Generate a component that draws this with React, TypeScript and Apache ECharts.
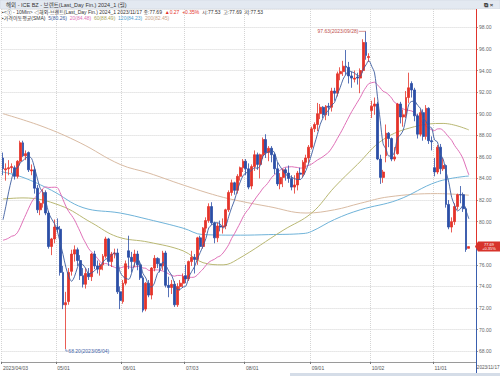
import React, { useEffect, useRef } from "react";
import * as echarts from "echarts";

// trading days per month (2023)
const aprDays = [3, 4, 5, 6, 10, 11, 12, 13, 14, 17, 18, 19, 20, 21, 24, 25, 26, 27, 28];
const mayDays = [1, 2, 3, 4, 5, 8, 9, 10, 11, 12, 15, 16, 17, 18, 19, 22, 23, 24, 25, 26, 29, 30, 31];
const junDays = [1, 2, 5, 6, 7, 8, 9, 12, 13, 14, 15, 16, 19, 20, 21, 22, 23, 26, 27, 28, 29, 30];
const julDays = [3, 4, 5, 6, 7, 10, 11, 12, 13, 14, 17, 18, 19, 20, 21, 24, 25, 26, 27, 28, 31];
const augDays = [1, 2, 3, 4, 7, 8, 9, 10, 11, 14, 15, 16, 17, 18, 21, 22, 23, 24, 25, 28, 29, 30, 31];
const sepDays = [1, 4, 5, 6, 7, 8, 11, 12, 13, 14, 15, 18, 19, 20, 21, 22, 25, 26, 27, 28, 29];
const octDays = [2, 3, 4, 5, 6, 9, 10, 11, 12, 13, 16, 17, 18, 19, 20, 23, 24, 25, 26, 27, 30, 31];
const novDays = [1, 2, 3, 6, 7, 8, 9, 10, 13, 14, 15, 16, 17];

// closes before the first bar (for the 5/20 averages)
const prevCloses = [83.29, 82.66, 81.59, 82.78, 80.77, 77.45, 73.69, 74.7, 72.97, 73.79, 75.32, 76.69, 75.91, 74.99, 78.12, 78.65, 78.28, 79.27, 79.77];

// [open, high, low, close]
const bars = [
  [85.9, 86.4, 84.3, 84.9], [84.8, 85.4, 83.8, 84.9], [84.9, 85.7, 84.3, 85.0], [85.0, 85.4, 84.5, 85.1],
  [85.0, 85.2, 83.9, 84.2], [84.2, 85.7, 84.0, 85.6], [85.6, 87.5, 85.2, 87.3], [87.3, 87.5, 86.0, 86.1],
  [86.1, 86.6, 85.7, 86.3], [86.4, 86.5, 84.6, 84.8], [84.7, 85.3, 84.3, 84.8], [84.8, 85.1, 82.6, 83.1],
  [83.1, 83.4, 80.8, 81.1], [81.1, 81.9, 80.6, 81.7], [81.7, 83.0, 81.3, 82.7], [82.7, 82.9, 80.6, 80.8],
  [80.8, 81.0, 77.5, 77.7], [77.7, 78.5, 76.9, 78.4], [78.4, 80.2, 78.0, 79.5],
  // May
  [79.5, 80.3, 79.0, 79.3], [79.3, 79.6, 75.0, 75.3], [75.3, 75.9, 71.9, 72.3], [72.3, 73.5, 68.2, 72.5],
  [72.6, 75.7, 72.3, 75.3], [75.4, 77.4, 75.0, 77.0], [77.0, 77.8, 76.3, 77.4], [77.4, 77.6, 75.9, 76.4],
  [76.4, 76.9, 74.6, 75.0], [75.0, 75.7, 73.9, 74.2], [74.2, 75.7, 73.8, 75.2], [75.2, 75.7, 74.6, 74.9],
  [74.9, 77.1, 74.5, 77.0], [77.0, 77.3, 75.6, 75.9], [75.9, 76.4, 75.2, 75.6], [75.6, 76.2, 75.0, 76.0],
  [76.0, 77.0, 75.5, 76.8], [76.8, 78.6, 76.6, 78.4], [78.4, 78.5, 75.9, 76.3], [76.3, 77.2, 75.8, 77.0],
  [77.0, 77.5, 76.6, 77.1], [77.1, 77.5, 73.3, 73.5], [73.5, 74.0, 71.9, 72.7],
  // Jun
  [72.6, 74.6, 72.4, 74.3], [74.3, 76.4, 74.1, 76.1], [77.3, 78.7, 75.6, 76.7], [76.7, 77.2, 75.3, 76.3],
  [76.3, 77.4, 75.8, 77.0], [77.0, 77.3, 75.5, 76.0], [76.0, 76.4, 74.6, 74.8], [74.8, 75.0, 71.6, 71.8],
  [71.9, 74.4, 71.7, 74.3], [74.3, 74.6, 73.0, 73.2], [73.2, 75.8, 72.8, 75.7], [75.7, 76.9, 75.4, 76.6],
  [76.6, 76.7, 75.7, 76.1], [76.1, 76.6, 75.3, 75.9], [75.9, 77.3, 75.5, 77.1], [77.1, 77.3, 73.9, 74.1],
  [74.1, 74.9, 73.0, 73.9], [73.9, 74.6, 73.3, 74.2], [74.2, 74.5, 72.1, 72.3], [72.3, 74.3, 72.1, 74.0],
  [74.0, 74.6, 73.6, 74.3], [74.3, 75.2, 73.9, 74.9],
  // Jul
  [75.0, 76.0, 74.3, 74.7], [74.7, 76.4, 74.5, 76.3], [76.3, 77.3, 75.9, 76.7], [76.7, 77.0, 75.2, 76.5],
  [76.5, 78.6, 76.0, 78.5], [78.5, 78.7, 77.4, 77.7], [77.7, 79.5, 77.5, 79.4], [79.4, 80.4, 79.0, 80.1],
  [80.1, 81.7, 79.9, 81.4], [81.4, 81.8, 79.7, 79.9], [79.9, 80.0, 78.0, 78.5], [78.5, 79.9, 78.1, 79.6],
  [79.6, 80.1, 79.1, 79.5], [79.5, 80.3, 78.9, 79.6], [79.6, 81.2, 79.3, 81.1], [81.1, 82.9, 80.9, 82.7],
  [82.7, 83.9, 82.4, 83.6], [83.6, 83.7, 82.5, 82.9], [82.9, 84.4, 82.6, 84.2], [84.2, 85.1, 83.8, 85.0],
  [85.0, 85.8, 84.6, 85.6],
  // Aug
  [85.6, 85.8, 84.3, 84.9], [84.9, 85.4, 83.0, 83.2], [83.3, 85.3, 83.0, 85.1], [85.1, 86.6, 84.7, 86.2],
  [86.2, 86.4, 84.8, 85.3], [85.3, 86.3, 84.0, 86.2], [86.2, 87.8, 85.8, 87.6], [87.6, 88.1, 85.9, 86.4],
  [86.4, 87.0, 85.6, 86.8], [86.8, 87.0, 85.5, 86.2], [86.2, 86.4, 84.4, 84.9], [84.9, 85.5, 83.3, 83.5],
  [83.5, 84.5, 83.0, 84.1], [84.1, 84.9, 83.2, 84.8], [84.8, 85.0, 83.8, 84.5], [84.5, 85.2, 83.6, 84.0],
  [84.0, 84.3, 82.9, 83.2], [83.2, 84.3, 82.6, 83.4], [83.4, 84.7, 82.9, 84.5], [84.5, 85.0, 83.9, 84.4],
  [84.4, 85.7, 84.1, 85.5], [85.5, 86.2, 84.9, 85.9], [85.9, 87.1, 85.4, 86.9],
  // Sep
  [86.9, 88.8, 86.7, 88.6], [88.6, 89.2, 88.3, 89.0], [89.0, 91.0, 88.4, 90.0], [90.0, 90.9, 89.5, 90.6],
  [90.6, 90.7, 89.6, 89.9], [89.9, 90.8, 89.4, 90.7], [90.7, 91.0, 89.8, 90.6], [90.6, 92.4, 90.2, 92.1],
  [92.1, 92.4, 91.2, 91.9], [91.9, 93.9, 91.6, 93.7], [93.7, 94.3, 93.1, 93.9], [93.9, 94.9, 93.5, 94.4],
  [94.4, 95.9, 93.6, 94.3], [94.3, 94.8, 92.8, 93.5], [93.5, 93.9, 92.4, 93.3], [93.2, 94.0, 92.9, 93.3],
  [93.4, 93.8, 92.7, 93.3], [93.3, 94.2, 91.9, 94.0], [94.0, 96.9, 93.8, 96.6], [96.6, 97.63, 95.0, 95.4],
  [95.2, 95.6, 94.8, 95.3],
  // Oct
  [90.3, 91.2, 89.6, 90.7], [90.7, 91.5, 89.9, 90.9], [90.9, 91.1, 85.7, 85.8], [85.8, 86.2, 83.5, 84.1],
  [84.1, 84.8, 83.6, 84.6], [86.1, 89.0, 85.5, 88.2], [88.2, 88.3, 86.9, 87.7], [87.7, 87.8, 85.6, 85.8],
  [85.8, 86.9, 85.6, 86.0], [86.3, 91.0, 86.2, 90.9], [90.9, 91.1, 89.1, 89.7], [89.7, 90.4, 88.8, 89.9],
  [89.9, 92.1, 89.6, 91.5], [91.5, 93.8, 91.0, 92.4], [92.8, 93.0, 91.5, 92.2], [92.2, 92.4, 89.3, 89.8],
  [89.8, 90.0, 87.7, 88.1], [88.1, 90.4, 87.9, 90.1], [90.1, 90.4, 87.5, 87.9], [87.9, 90.8, 87.6, 90.5],
  [90.5, 90.6, 87.2, 87.5], [87.5, 87.9, 86.6, 87.4],
  // Nov
  [85.0, 85.9, 84.2, 84.6], [84.6, 87.1, 84.4, 86.9], [86.9, 87.2, 84.4, 84.9], [84.9, 85.9, 84.7, 85.2],
  [85.2, 85.3, 81.3, 81.6], [81.6, 82.0, 79.3, 79.5], [79.5, 80.4, 79.0, 80.0], [80.0, 81.7, 79.7, 81.4],
  [81.4, 82.6, 81.1, 82.5], [82.5, 83.3, 81.7, 82.47], [82.5, 82.7, 80.9, 81.2], [81.2, 81.4, 77.2, 77.42],
  [77.53, 77.69, 77.53, 77.69],
];

// longer moving averages: [bar index, value]
const ma60Pts = [[0, 82.1], [7, 82.2], [20, 81.5], [31, 79.9], [40, 78.6], [51, 78.1], [63, 77.3], [70, 76.2], [77, 76.0], [82, 76.5], [98, 79.2], [108, 80.8], [116, 83.2], [124, 85.3], [133, 87.6], [144, 88.8], [154, 89.1], [163, 88.5]];
const ma120Pts = [[0, 84.6], [7, 84.1], [17, 82.9], [28, 81.3], [41, 80.8], [51, 80.2], [63, 79.4], [70, 78.8], [83, 78.75], [93, 78.8], [105, 78.9], [108, 79.1], [116, 80.2], [125, 81.1], [138, 82.0], [152, 83.7], [163, 84.23]];
const ma200Pts = [[0, 90.0], [14, 88.8], [27, 87.3], [41, 85.3], [51, 84.5], [63, 83.4], [75, 82.4], [83, 81.9], [93, 81.4], [106, 80.8], [116, 81.1], [125, 81.7], [135, 82.3], [152, 82.6], [163, 82.45]];

const yTicksMin = 67;
const yTicksMax = 99.7;

const UP = "#e4332a";
const DOWN = "#2b4ea6";
const C5 = "#3b5b9e";
const C20 = "#e070b8";
const C60 = "#b9b873";
const C120 = "#6fb3d9";
const C200 = "#d9bba3";

export default function App() {
  const ref = useRef<HTMLDivElement>(null);
  useEffect(() => {
    const chart = echarts.init(ref.current!, null, { renderer: "svg" });
    const dates: string[] = [];
    const mm = ["04", "05", "06", "07", "08", "09", "10", "11"];
    [aprDays, mayDays, junDays, julDays, augDays, sepDays, octDays, novDays].forEach((arr, m) => {
      arr.forEach((d) => dates.push("2023/" + mm[m] + "/" + (d < 10 ? "0" + d : "" + d)));
    });
    const cats = [...dates, "", ""];
    const monthStart = new Set<number>();
    dates.forEach((d, i) => {
      if (i === 0 || d.slice(5, 7) !== dates[i - 1].slice(5, 7)) monthStart.add(i);
    });
    const closes = bars.map((b) => b[3]);
    const lastClose = closes[closes.length - 1];
    const all = [...prevCloses, ...closes];
    const ma = (n: number) =>
      closes.map((_, i) => {
        const j = i + prevCloses.length;
        if (j + 1 < n) return "-";
        let s = 0;
        for (let k = j - n + 1; k <= j; k++) s += all[k];
        return +(s / n).toFixed(2);
      });
    const kData = bars.map((b) => [b[0], b[3], b[2], b[1]]);
    const font = "'Liberation Sans', 'Noto Sans CJK KR', sans-serif";

    const option: any = {
      animation: false,
      backgroundColor: "#ffffff",
      grid: { left: 0, right: 24, top: 9, bottom: 14, containLabel: false },
      xAxis: {
        type: "category",
        data: cats,
        boundaryGap: true,
        axisLine: { lineStyle: { color: "#9a9a9a", width: 1 } },
        axisTick: { show: true, length: 2, interval: (i: number) => monthStart.has(i), lineStyle: { color: "#777" } },
        axisLabel: {
          interval: (i: number) => monthStart.has(i),
          formatter: (v: string, i: number) => (i === 0 ? v : v.slice(5)),
          fontSize: 5,
          color: "#555",
          align: "left",
          margin: 3,
          fontFamily: font,
        },
        splitLine: { show: true, interval: (i: number) => monthStart.has(i), lineStyle: { type: "dotted", color: "#d4d4d4" } },
      },
      yAxis: {
        type: "value",
        position: "right",
        min: yTicksMin,
        max: yTicksMax,
        splitNumber: 16,
        axisLine: { show: false },
        axisTick: { show: true, length: 2, lineStyle: { color: "#999" } },
        axisLabel: {
          fontSize: 5,
          color: "#666",
          margin: 3,
          fontFamily: font,
          showMinLabel: false,
          showMaxLabel: false,
          formatter: (v: number) => (Math.abs(v % 2) < 1e-6 && Math.abs(v - lastClose) > 1 ? v.toFixed(2) : ""),
        },
        splitLine: { lineStyle: { type: "dotted", color: "#d4d4d4" } },
      },
      series: [
        { type: "line", data: ma200Pts, smooth: 0.4, symbol: "none", lineStyle: { color: C200, width: 1 }, z: 2 },
        { type: "line", data: ma120Pts, smooth: 0.4, symbol: "none", lineStyle: { color: C120, width: 1 }, z: 2 },
        { type: "line", data: ma60Pts, smooth: 0.4, symbol: "none", lineStyle: { color: C60, width: 1 }, z: 2 },
        { type: "line", data: ma(20), smooth: 0.3, symbol: "none", lineStyle: { color: C20, width: 1 }, z: 3 },
        {
          type: "candlestick",
          data: kData,
          barWidth: 2.4,
          z: 4,
          itemStyle: { color: UP, color0: DOWN, borderColor: UP, borderColor0: DOWN, borderWidth: 0.8 },
        },
        { type: "line", data: ma(5), smooth: 0.3, symbol: "none", lineStyle: { color: C5, width: 0.9 }, z: 5 },
      ],
    };
    chart.setOption(option);

    const last = bars.length - 1;
    const yLast = chart.convertToPixel({ yAxisIndex: 0 }, lastClose) as number;
    const yTop = chart.convertToPixel({ yAxisIndex: 0 }, yTicksMax) as number;
    const yBot = chart.convertToPixel({ yAxisIndex: 0 }, yTicksMin) as number;
    const xAxisRight = (chart.convertToPixel({ xAxisIndex: 0 }, cats.length - 1) as number) + 1.5;
    let hiIdx = 0, loIdx = 0;
    bars.forEach((b, i) => {
      if (b[1] > bars[hiIdx][1]) hiIdx = i;
      if (b[2] < bars[loIdx][2]) loIdx = i;
    });
    const [hx, hy] = chart.convertToPixel({ xAxisIndex: 0, yAxisIndex: 0 }, [hiIdx, bars[hiIdx][1]]) as number[];
    const [lx, ly] = chart.convertToPixel({ xAxisIndex: 0, yAxisIndex: 0 }, [loIdx, bars[loIdx][2]]) as number[];
    const ax = Math.round(xAxisRight) + 0.5;
    const chg = lastClose - closes[last - 1];
    const pct = (chg / closes[last - 1]) * 100;

    chart.setOption({
      graphic: [
        { type: "rect", shape: { x: 0, y: 0, width: 500, height: 8.5 }, style: { fill: "#e3e9f1", stroke: "#c8d2de", lineWidth: 0.5 }, z: 100 },
        { type: "text", x: 6, y: 4.5, style: { text: "해외 - ICE BZ - 브렌트(Last_Day Fin.) 2024_1 (월)", font: "5.5px " + font, fill: "#333", verticalAlign: "middle" }, z: 101 },
        { type: "text", x: 484, y: 4.5, style: { text: "⧉ ×", font: "bold 6px " + font, fill: "#444", verticalAlign: "middle" }, z: 101 },
        {
          type: "text", x: 2, y: 11.5, z: 101,
          style: {
            verticalAlign: "middle",
            font: "5px " + font,
            rich: {
              a: { fill: "#333", font: "5px " + font },
              r: { fill: UP, font: "5px " + font },
              s: { fill: "#333", font: "5px " + font },
            },
            text: "{a|▪<① - 10Min> ◁해외-브렌트(Last_Day Fin.) 2024_1 2023/11/17 종:" + lastClose.toFixed(2) + "  }{r|▲" + chg.toFixed(2) + "  +" + pct.toFixed(2) + "%}{s|  시:" + bars[last][0].toFixed(2) + "  고:" + bars[last][1].toFixed(2) + "  저:" + bars[last][2].toFixed(2) + "}",
          },
        },
        {
          type: "text", x: 2, y: 17.5, z: 101,
          style: {
            verticalAlign: "middle",
            font: "5px " + font,
            rich: {
              a: { fill: "#333", font: "5px " + font },
              m5: { fill: C5, font: "5px " + font },
              m20: { fill: C20, font: "5px " + font },
              m60: { fill: "#a6a55a", font: "5px " + font },
              m120: { fill: "#4fa0cf", font: "5px " + font },
              m200: { fill: "#c9a287", font: "5px " + font },
            },
            text: "{a|▪가격이동평균(SMA)  }{m5|5(80.26)}  {m20|20(84.48)}  {m60|60(88.49)}  {m120|120(84.23)}  {m200|200(82.45)}",
          },
        },
        { type: "line", shape: { x1: ax, y1: yTop, x2: ax, y2: yLast }, style: { stroke: "#e0342c", lineWidth: 1 }, z: 90 },
        { type: "line", shape: { x1: ax, y1: yLast, x2: ax, y2: yBot + 14 }, style: { stroke: "#3a5fae", lineWidth: 1 }, z: 90 },
        { type: "polygon", shape: { points: [[ax - 1.5, yLast], [ax + 1.5, yLast - 5], [500, yLast - 5], [500, yLast + 5], [ax + 1.5, yLast + 5]] }, style: { fill: "#d7332b" }, z: 95 },
        {
          type: "text", x: 489, y: yLast,
          style: {
            text: lastClose.toFixed(2) + "\n+" + pct.toFixed(2) + "%",
            font: "4px " + font, lineHeight: 4.6, fill: "#fff", align: "center", verticalAlign: "middle",
          },
          z: 96,
        },
        { type: "text", x: 499.5, y: yBot + 5.5, style: { text: dates[last], font: "4.6px " + font, fill: "#555", align: "right", verticalAlign: "middle" }, z: 96 },
        // high annotation
        { type: "line", shape: { x1: hx - 7, y1: hy, x2: hx, y2: hy }, style: { stroke: "#c0504d", lineWidth: 0.6 }, z: 96 },
        { type: "text", x: hx - 7.5, y: hy, style: { text: bars[hiIdx][1].toFixed(2) + "(" + dates[hiIdx] + ")", font: "5px " + font, fill: "#c0504d", align: "right", verticalAlign: "middle" }, z: 96 },
        // low annotation
        { type: "polyline", shape: { points: [[lx, ly], [lx, ly + 2], [lx + 2, ly + 2]] }, style: { stroke: "#3f5fa8", lineWidth: 0.6, fill: "none" }, z: 96 },
        { type: "text", x: lx + 2.5, y: ly + 2, style: { text: bars[loIdx][2].toFixed(2) + "(" + dates[loIdx] + ")", font: "5px " + font, fill: "#3f5fa8", verticalAlign: "middle" }, z: 96 },
        { type: "rect", shape: { x: 290, y: 373, width: 210, height: 3 }, style: { fill: "#d5dde8" }, z: 96 },
      ],
    });
    return () => chart.dispose();
  }, []);
  return <div ref={ref} style={{ position: "absolute", left: 0, top: 0, width: 500, height: 376, background: "#fff" }} />;
}
